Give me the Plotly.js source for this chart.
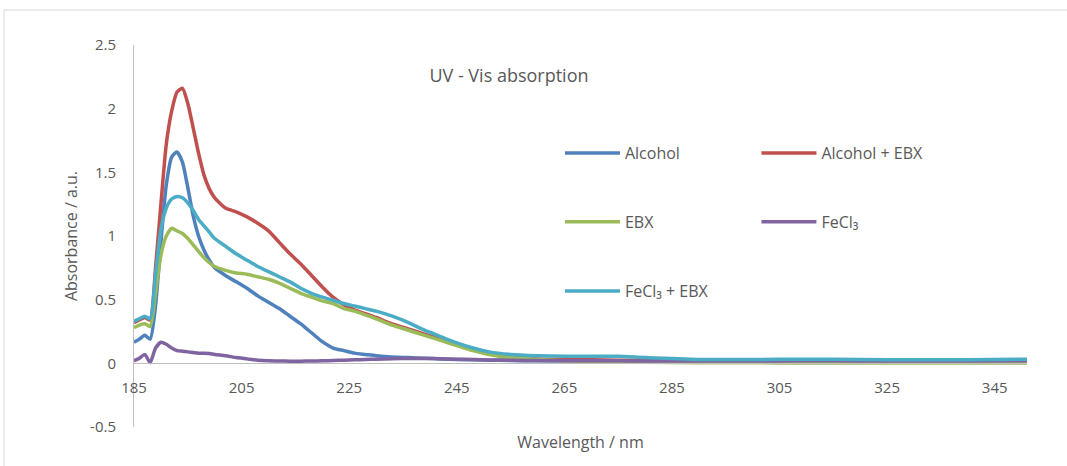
<!DOCTYPE html>
<html>
<head>
<meta charset="utf-8">
<script src="https://cdn.plot.ly/plotly-3.0.1.min.js"></script>
<style>html,body{margin:0;padding:0;background:#fff;}#chart{width:1067px;height:466px;}</style>
</head>
<body>
<div id="chart"></div>
<script>
// Wavelength (nm)
const wavelength = [185,186,187,188,189,190,191,192,193,194,195,196,197,198,199,200,202,204,206,208,210,212,214,216,218,220,222,224,226,228,230,233,236,239,242,245,248,251,255,260,265,270,275,280,290,300,310,320,330,340,351];

const alcohol = [0.165,0.19,0.22,0.19,0.45,0.95,1.40,1.62,1.66,1.58,1.38,1.16,1.00,0.89,0.81,0.75,0.69,0.64,0.59,0.53,0.48,0.43,0.37,0.31,0.24,0.17,0.12,0.10,0.08,0.07,0.06,0.05,0.045,0.04,0.035,0.03,0.028,0.025,0.022,0.02,0.02,0.018,0.018,0.017,0.016,0.015,0.015,0.015,0.014,0.014,0.014];

const alcoholEBX = [0.32,0.34,0.36,0.34,0.75,1.25,1.72,1.98,2.13,2.16,2.04,1.85,1.65,1.48,1.37,1.30,1.22,1.19,1.15,1.10,1.04,0.95,0.86,0.78,0.69,0.60,0.52,0.46,0.42,0.39,0.36,0.31,0.27,0.23,0.19,0.15,0.11,0.08,0.05,0.035,0.03,0.028,0.025,0.022,0.02,0.018,0.016,0.015,0.015,0.014,0.014];

const ebx = [0.28,0.30,0.31,0.29,0.55,0.85,1.00,1.06,1.04,1.02,0.98,0.93,0.88,0.83,0.79,0.76,0.73,0.71,0.70,0.68,0.66,0.63,0.59,0.55,0.52,0.49,0.47,0.43,0.41,0.38,0.35,0.30,0.26,0.22,0.18,0.14,0.10,0.07,0.045,0.03,0.02,0.015,0.01,0.008,0.005,0.004,0.003,0.003,0.003,0.003,0.003];

const fecl3 = [0.02,0.04,0.07,0.005,0.12,0.165,0.15,0.12,0.10,0.095,0.09,0.085,0.08,0.08,0.078,0.07,0.06,0.045,0.035,0.025,0.02,0.018,0.017,0.017,0.018,0.02,0.022,0.025,0.028,0.03,0.033,0.036,0.038,0.038,0.036,0.033,0.03,0.027,0.024,0.022,0.02,0.02,0.02,0.018,0.018,0.018,0.02,0.019,0.018,0.018,0.02];

const fecl3EBX = [0.33,0.35,0.37,0.35,0.70,1.05,1.22,1.29,1.31,1.30,1.26,1.20,1.13,1.08,1.03,0.98,0.92,0.86,0.81,0.76,0.72,0.68,0.64,0.59,0.55,0.52,0.495,0.47,0.45,0.43,0.41,0.37,0.32,0.26,0.21,0.16,0.12,0.09,0.07,0.06,0.055,0.055,0.055,0.045,0.03,0.03,0.033,0.03,0.028,0.028,0.032];

const seriesNames = ["Alcohol","Alcohol + EBX","EBX","FeCl\u2083","FeCl\u2083 + EBX"];
const seriesColors = ["#4F81BD","#C0504D","#9BBB59","#8064A2","#4BACC6"];
const seriesData = [alcohol, alcoholEBX, ebx, fecl3, fecl3EBX];
const legendIds = ["legend","legend2","legend3","legend4","legend5"];

const xTicks = [185,205,225,245,265,285,305,325,345];
const yTicks = [-0.5,0,0.5,1,1.5,2,2.5];
const yTickText = ["-0.5","0","0.5","1","1.5","2","2.5"];

const FONT = "Open Sans, Liberation Sans, Arial, sans-serif";
const TXT = "#595959";

const traces = seriesData.map((ys, i) => ({
  type: "scatter",
  mode: "lines",
  x: wavelength,
  y: ys,
  name: seriesNames[i],
  legend: legendIds[i],
  line: {color: seriesColors[i], width: 3.5, shape: "spline", smoothing: 0.6}
}));

// legend placement (paper coords)
const legPos = [[0.477,0.717],[0.697,0.717],[0.477,0.537],[0.697,0.537],[0.477,0.356]];
function legendCfg(p){
  return {x:p[0], y:p[1], xanchor:"left", yanchor:"middle", orientation:"v",
    bgcolor:"rgba(0,0,0,0)", borderwidth:0, itemwidth:55,
    font:{family:FONT, size:16, color:TXT}};
}

const layout = {
  width: 1067, height: 466, autosize: false,
  margin: {l:134, r:40, t:45, b:39, pad:0},
  paper_bgcolor: "#ffffff", plot_bgcolor: "#ffffff",
  font: {family: FONT, color: TXT, size: 15},
  title: {text: "UV - Vis absorption", x: 0.477, xref: "container", xanchor: "center",
          y: 0.837, yref: "container", yanchor: "middle",
          font: {family: FONT, size: 18, color: TXT}},
  xaxis: {
    range: [185, 351], tickvals: xTicks, ticktext: xTicks.map(String),
    showgrid: false, zeroline: false, showline: true, linecolor: "#bfbfbf", linewidth: 1,
    ticks: "", ticklabelstandoff: 11,
    anchor: "free", position: 0.5/3,
    tickfont: {family: FONT, size: 15, color: TXT},
    title: {text: "Wavelength / nm", font: {family: FONT, size: 16, color: TXT}, standoff: 40}
  },
  yaxis: {
    range: [-0.5, 2.5], tickvals: yTicks, ticktext: yTickText,
    showgrid: false, zeroline: false, showline: true, linecolor: "#bfbfbf", linewidth: 1,
    ticks: "", ticklabelstandoff: 14,
    tickfont: {family: FONT, size: 15, color: TXT},
    title: {text: "Absorbance / a.u.", font: {family: FONT, size: 16, color: TXT}, standoff: 8}
  },
  showlegend: true,
  legend: legendCfg(legPos[0]),
  legend2: legendCfg(legPos[1]),
  legend3: legendCfg(legPos[2]),
  legend4: legendCfg(legPos[3]),
  legend5: legendCfg(legPos[4]),
  shapes: [{type:"rect", xref:"paper", yref:"paper", x0:-0.1456, x1:1.2, y0:-0.3, y1:1.0916,
            line:{color:"#d9d9d9", width:1}, fillcolor:"rgba(0,0,0,0)", layer:"below"}]
};

Plotly.newPlot("chart", traces, layout, {displayModeBar:false, staticPlot:true});
</script>
</body>
</html>
